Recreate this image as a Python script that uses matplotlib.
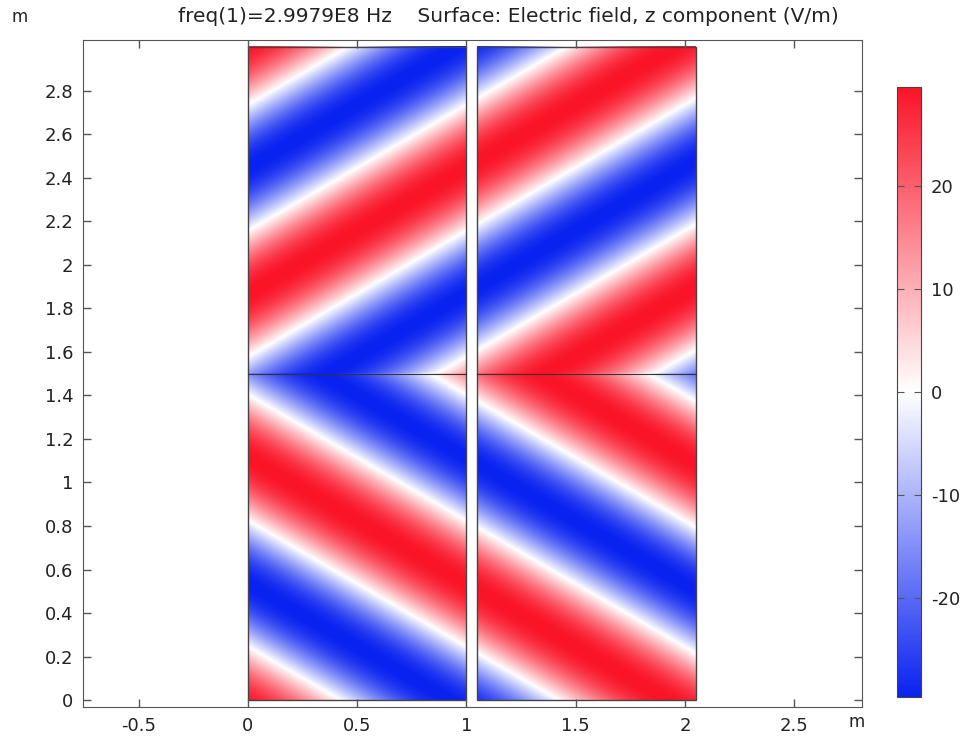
import numpy as np
import matplotlib
matplotlib.use("Agg")
import matplotlib.pyplot as plt
from matplotlib.patches import Rectangle
from matplotlib.colors import LinearSegmentedColormap

plt.rcParams['font.family'] = ['DejaVu Sans']
plt.rcParams['axes.unicode_minus'] = False

# geometry of the two domains (x0, x1, y0, y1) and the interface height
domains = [(0.0, 1.0, 0.0, 3.0), (1.05, 2.05, 0.0, 3.0)]
interface_y = 1.5

# plane wave (lambda = 1 m at 2.9979E8 Hz)
period_x = 2.0        # m, period of the stripes along x
period_y = 1.157      # m, period of the stripes along y
upper_zero_y = 2.733  # white line at x=0 in upper half (red above)
lower_zero_y = 0.243  # white line at x=0 in lower half (red below)
amplitude = 29.6      # V/m

xticks = [-0.5, 0, 0.5, 1, 1.5, 2, 2.5]
xlabels = ['-0.5', '0', '0.5', '1', '1.5', '2', '2.5']
yticks = [0, 0.2, 0.4, 0.6, 0.8, 1, 1.2, 1.4, 1.6, 1.8, 2, 2.2, 2.4, 2.6, 2.8]
ylabels = ['0', '0.2', '0.4', '0.6', '0.8', '1', '1.2', '1.4', '1.6', '1.8', '2', '2.2', '2.4', '2.6', '2.8']
cticks = [-20, -10, 0, 10, 20]

cmap = LinearSegmentedColormap.from_list("wave", ["#0a22f0", "#ffffff", "#fa1428"])

fig = plt.figure(figsize=(9.7, 7.38), dpi=100)
ax = fig.add_axes([83 / 970, 1 - 707 / 738, 779 / 970, 667 / 738])

for (x0, x1, y0, y1) in domains:
    xs = np.linspace(x0, x1, 300)
    ys = np.linspace(y0, y1, 900)
    X, Y = np.meshgrid(xs, ys)
    psi_u = -2 * np.pi * X / period_x + 2 * np.pi * (Y - upper_zero_y) / period_y - np.pi / 2
    psi_l = -2 * np.pi * X / period_x - 2 * np.pi * (Y - lower_zero_y) / period_y - np.pi / 2
    Ez = np.where(Y >= interface_y, amplitude * np.cos(psi_u), amplitude * np.cos(psi_l))
    im = ax.imshow(Ez, extent=(x0, x1, y0, y1), origin='lower', cmap=cmap,
                   vmin=-amplitude, vmax=amplitude, aspect='auto', interpolation='bilinear')
    ax.add_patch(Rectangle((x0, y0), x1 - x0, y1 - y0, fill=False, edgecolor='#444444', lw=1.0))
    ax.plot([x0, x1], [interface_y, interface_y], color='#333333', lw=0.8)

ax.set_xlim(-0.755, 2.81)
ax.set_ylim(-0.031, 3.032)
ax.set_xticks(xticks)
ax.set_xticklabels(xlabels)
ax.set_yticks(yticks)
ax.set_yticklabels(ylabels)
ax.tick_params(direction='in', length=6, width=1, top=True, right=True, pad=7,
               labelsize=13, colors='#555555', labelcolor='#222222')
for s in ax.spines.values():
    s.set_color('#555555')

fig.text(508 / 970, 1 - 17 / 738, "freq(1)=2.9979E8 Hz    Surface: Electric field, z component (V/m)",
         ha='center', va='center', fontsize=14.5, color='#222222')
fig.text(20 / 970, 1 - 17 / 738, "m", ha='center', va='center', fontsize=12, color='#222222')
fig.text(857 / 970, 1 - 722 / 738, "m", ha='center', va='center', fontsize=12, color='#222222')

cax = fig.add_axes([897 / 970, 1 - 697 / 738, 24 / 970, 610 / 738])
cb = fig.colorbar(im, cax=cax, ticks=cticks)
cb.ax.tick_params(direction='in', length=5, labelsize=13, colors='#555555', labelcolor='#222222',
                  left=True, right=True, pad=7)
cb.outline.set_edgecolor('#444444')

fig.savefig("out.png", dpi=100)
